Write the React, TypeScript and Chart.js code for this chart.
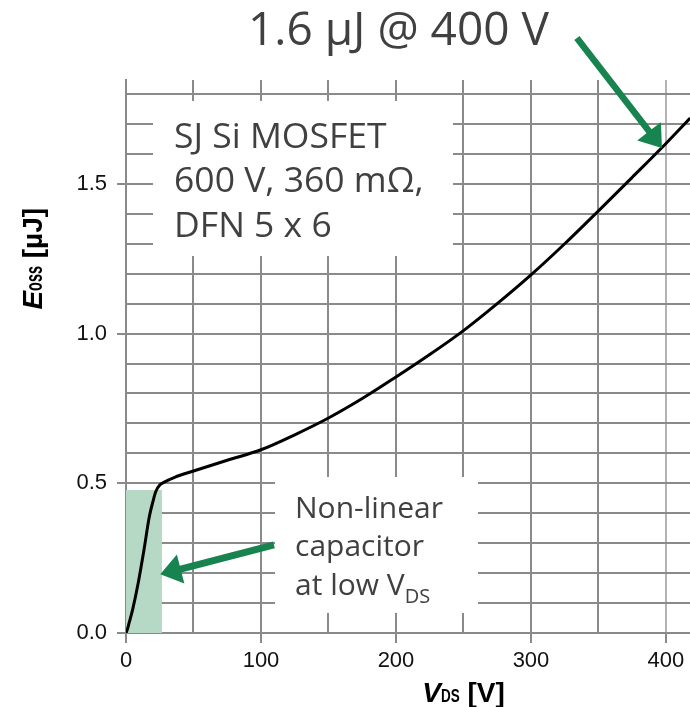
import React, { useEffect, useRef } from "react";
import { Chart, registerables } from "chart.js";

Chart.register(...registerables);

// ---- data ----
const vdsValues = [0, 1, 2.2, 5, 9, 13.3, 17.3, 20, 22, 25, 28, 36, 50, 75, 100, 125, 150, 175, 200, 225, 250, 275, 300, 325, 350, 375, 400, 418];
const eossValues = [0, 0.012, 0.032, 0.08, 0.166, 0.277, 0.389, 0.44, 0.472, 0.494, 0.503, 0.52, 0.541, 0.577, 0.612, 0.662, 0.718, 0.783, 0.855, 0.93, 1.01, 1.1, 1.196, 1.3, 1.41, 1.522, 1.635, 1.72];

// shaded low-voltage region (V range and E height)
const shadeVds = [0, 26.6];
const shadeEoss = [0.478, 0.478];

const xLabelValues = [0, 100, 200, 300, 400];
const yLabelValues = [0, 0.5, 1.0, 1.5];

const titleText = "1.6 µJ @ 400 V";
const deviceLines = ["SJ Si MOSFET", "600 V, 360 mΩ,", "DFN 5 x 6"];
const noteLines = ["Non-linear", "capacitor", "at low V"];
const noteSub = "DS";

// ---- styles ----
const GRID = "#8a8a8a";
const GRID_LIGHT = "#b4b4b4";
const TEXT = "#404040";
const GREEN = "#17834f";
const SHADE = "#b5d9c5";
const SANS = '"Open Sans", "Noto Sans", sans-serif';
const ARIAL = '"Liberation Sans", Arial, sans-serif';

// annotation anchors in data coordinates
const annot = {
  title: { x: 90.4, y: 1.964 },
  box1: { x0: 20, x1: 242.2, y0: 1.259, y1: 1.777 },
  box1Text: { x: 35.6, y: 1.621 },
  box2: { x0: 110.4, x1: 260.7, y0: 0.067, y1: 0.521 },
  box2Text: { x: 125.2, y: 0.385 },
  arrow1: { x0: 334, y0: 1.987, x1: 397, y1: 1.62 },
  arrow2: { x0: 109.6, y0: 0.294, x1: 25.4, y1: 0.196 },
};

function drawArrow(ctx: CanvasRenderingContext2D, x0: number, y0: number, x1: number, y1: number, shaft: number, headLen: number, headW: number) {
  const dx = x1 - x0, dy = y1 - y0;
  const L = Math.hypot(dx, dy);
  const ux = dx / L, uy = dy / L;
  const px = -uy, py = ux;
  const bx = x1 - ux * headLen, by = y1 - uy * headLen;
  ctx.beginPath();
  ctx.moveTo(x0 + px * shaft / 2, y0 + py * shaft / 2);
  ctx.lineTo(bx + px * shaft / 2, by + py * shaft / 2);
  ctx.lineTo(bx + px * headW / 2, by + py * headW / 2);
  ctx.lineTo(x1, y1);
  ctx.lineTo(bx - px * headW / 2, by - py * headW / 2);
  ctx.lineTo(bx - px * shaft / 2, by - py * shaft / 2);
  ctx.lineTo(x0 - px * shaft / 2, y0 - py * shaft / 2);
  ctx.closePath();
  ctx.fill();
}

// draws text parts (with condensed subscripts), returns total width
function drawRich(ctx: CanvasRenderingContext2D, parts: { t: string; font: string; sx: number; dy: number }[], x: number, y: number, measureOnly = false) {
  let cx = x;
  for (const p of parts) {
    ctx.font = p.font;
    const w = ctx.measureText(p.t).width * p.sx;
    if (!measureOnly) {
      ctx.save();
      ctx.translate(cx, y + p.dy);
      ctx.scale(p.sx, 1);
      ctx.fillText(p.t, 0, 0);
      ctx.restore();
    }
    cx += w;
  }
  return cx - x;
}

const annotationPlugin = {
  id: "annotations",
  beforeDatasetsDraw(chart: any) {
    const { ctx, scales } = chart;
    const xs = scales.x, ys = scales.y;
    ctx.save();
    ctx.fillStyle = "#ffffff";
    for (const b of [annot.box1, annot.box2]) {
      const l = xs.getPixelForValue(b.x0), r = xs.getPixelForValue(b.x1);
      const t = ys.getPixelForValue(b.y1), bt = ys.getPixelForValue(b.y0);
      ctx.fillRect(l, t, r - l, bt - t);
    }
    ctx.restore();
  },
  afterDraw(chart: any) {
    const { ctx, scales } = chart;
    const xs = scales.x, ys = scales.y;
    ctx.save();
    ctx.fillStyle = TEXT;
    ctx.textAlign = "left";
    ctx.textBaseline = "alphabetic";

    // title
    ctx.font = `46px ${SANS}`;
    ctx.fillText(titleText, xs.getPixelForValue(annot.title.x), ys.getPixelForValue(annot.title.y));

    // device box text
    ctx.font = `35.5px ${SANS}`;
    const b1x = xs.getPixelForValue(annot.box1Text.x);
    const b1y = ys.getPixelForValue(annot.box1Text.y);
    deviceLines.forEach((s, i) => ctx.fillText(s, b1x, b1y + i * 44.5));

    // note box text
    const b2x = xs.getPixelForValue(annot.box2Text.x);
    const b2y = ys.getPixelForValue(annot.box2Text.y);
    ctx.font = `30px ${SANS}`;
    noteLines.forEach((s, i) => ctx.fillText(s, b2x, b2y + i * 38.7));
    const lastW = ctx.measureText(noteLines[noteLines.length - 1]).width;
    ctx.font = `20px ${SANS}`;
    ctx.fillText(noteSub, b2x + lastW, b2y + 2 * 38.7 + 7.7);

    // arrows
    ctx.fillStyle = GREEN;
    const a1 = annot.arrow1, a2 = annot.arrow2;
    drawArrow(ctx, xs.getPixelForValue(a1.x0), ys.getPixelForValue(a1.y0), xs.getPixelForValue(a1.x1), ys.getPixelForValue(a1.y1), 6.5, 21, 30);
    drawArrow(ctx, xs.getPixelForValue(a2.x0), ys.getPixelForValue(a2.y0), xs.getPixelForValue(a2.x1), ys.getPixelForValue(a2.y1), 7, 21, 30);

    // axis titles
    ctx.fillStyle = "#000000";
    const xParts = [
      { t: "V", font: `italic bold 28px ${ARIAL}`, sx: 1, dy: 0 },
      { t: "DS", font: `bold 18px ${ARIAL}`, sx: 0.75, dy: 0 },
      { t: " [V]", font: `bold 28px ${ARIAL}`, sx: 1, dy: 0 },
    ];
    const xw = drawRich(ctx, xParts, 0, 0, true);
    const xc = xs.getPixelForValue(250);
    drawRich(ctx, xParts, xc - xw / 2, 702);

    const yParts = [
      { t: "E", font: `italic bold 28px ${ARIAL}`, sx: 1, dy: 0 },
      { t: "oss", font: `bold 24px ${ARIAL}`, sx: 0.6, dy: 0 },
      { t: " [µJ]", font: `bold 28px ${ARIAL}`, sx: 1, dy: 0 },
    ];
    const yw = drawRich(ctx, yParts, 0, 0, true);
    ctx.save();
    ctx.translate(42, ys.getPixelForValue(1.25));
    ctx.rotate(-Math.PI / 2);
    drawRich(ctx, yParts, -yw / 2, 0);
    ctx.restore();

    ctx.restore();
  },
};

const isLabel = (arr: number[], v: number) => arr.some((a) => Math.abs(a - v) < 1e-9);

export default function App() {
  const ref = useRef<HTMLCanvasElement>(null);
  useEffect(() => {
    document.body.style.margin = "0";
    const chart = new Chart(ref.current!, {
      type: "line",
      data: {
        datasets: [
          {
            label: "Eoss",
            data: vdsValues.map((v, i) => ({ x: v, y: eossValues[i] })),
            borderColor: "#000000",
            borderWidth: 3,
            pointRadius: 0,
            cubicInterpolationMode: "monotone",
            fill: false,
            order: 0,
          },
          {
            label: "low VDS",
            data: shadeVds.map((v, i) => ({ x: v, y: shadeEoss[i] })),
            borderWidth: 0,
            borderColor: "rgba(0,0,0,0)",
            backgroundColor: SHADE,
            pointRadius: 0,
            fill: "origin",
            order: 1,
          },
        ],
      },
      options: {
        animation: false,
        responsive: false,
        layout: { padding: { top: 80, left: 0, right: 0, bottom: 0 } },
        plugins: { legend: { display: false }, tooltip: { enabled: false } },
        scales: {
          x: {
            type: "linear",
            min: 0,
            max: 417.8,
            afterFit: (s: any) => {
              s.height = 74;
            },
            border: { display: true, color: GRID, width: 2 },
            grid: {
              color: (c: any) => (c.tick && c.tick.value === 400 ? GRID_LIGHT : GRID),
              lineWidth: 2,
              tickLength: 10,
              tickWidth: 2,
              tickColor: (c: any) => (c.tick && isLabel(xLabelValues, c.tick.value) ? GRID : "rgba(0,0,0,0)"),
            },
            ticks: {
              stepSize: 50,
              includeBounds: false,
              autoSkip: false,
              maxRotation: 0,
              padding: 5,
              color: "#111111",
              font: { family: ARIAL, size: 22 },
              callback: (v: any) => (isLabel(xLabelValues, Number(v)) ? String(v) : ""),
            },
          },
          y: {
            type: "linear",
            min: 0,
            max: 1.847,
            afterFit: (s: any) => {
              s.width = 126;
            },
            border: { display: true, color: GRID, width: 2 },
            grid: {
              color: GRID,
              lineWidth: 2,
              tickLength: 9,
              tickWidth: 2,
              tickColor: (c: any) => (c.tick && isLabel(yLabelValues, c.tick.value) ? GRID : "rgba(0,0,0,0)"),
            },
            ticks: {
              stepSize: 0.1,
              includeBounds: false,
              autoSkip: false,
              padding: 10,
              color: "#111111",
              font: { family: ARIAL, size: 22 },
              callback: (v: any) => (isLabel(yLabelValues, Number(v)) ? Number(v).toFixed(1) : ""),
            },
          },
        },
      },
      plugins: [annotationPlugin],
    } as any);
    return () => chart.destroy();
  }, []);
  return <canvas ref={ref} width={690} height={707} style={{ display: "block" }} />;
}
